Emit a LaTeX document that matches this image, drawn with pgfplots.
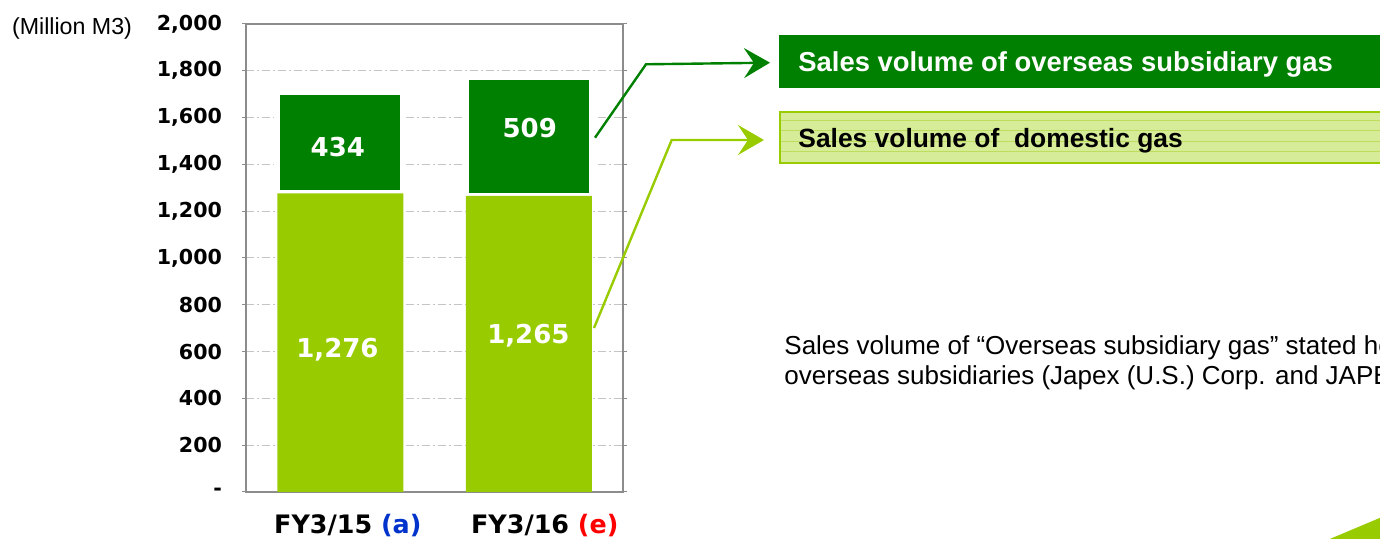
\documentclass[border=0pt]{standalone}
\usepackage{fontspec}
\setmainfont{Liberation Sans}
\newfontfamily\tah{DejaVu Sans}
\usepackage{pgfplots}
\pgfplotsset{compat=1.18}
\usetikzlibrary{arrows.meta}
\definecolor{lgreen}{HTML}{99CC00}
\definecolor{dgreen}{HTML}{008000}
\definecolor{pale}{HTML}{D7EC98}
\definecolor{stripe}{HTML}{BEDD5C}
\definecolor{frame}{HTML}{8C8C8C}
\definecolor{gridc}{HTML}{C4C4C4}
\definecolor{ablue}{HTML}{0033CC}

\begin{document}
\begin{tikzpicture}
\path[use as bounding box] (0,0) rectangle (690pt,269.5pt);
\clip (0,0) rectangle (690pt,269.5pt);

\begin{axis}[
  at={(123pt,23.5pt)}, anchor=south west,
  scale only axis, width=188.5pt, height=234pt,
  ybar stacked, bar width=63pt,
  xmin=-0.5, xmax=1.5, ymin=0, ymax=2000,
  xtick={0.04,1.085},
  xticklabels={FY3/15 \textcolor{ablue}{(a)}, FY3/16 \textcolor{red}{(e)}},
  x tick style={draw=none},
  xticklabel style={font=\tah\bfseries\fontsize{12.7}{15}\selectfont, yshift=-5.5pt},
  ytick={0,200,...,2000},
  yticklabels={-,200,400,600,800,{1,000},{1,200},{1,400},{1,600},{1,800},{2,000}},
  yticklabel style={font=\tah\bfseries\fontsize{10.3}{12}\selectfont, xshift=-6.5pt},
  y tick style={draw=frame, line width=0.5pt},
  tick align=outside, major tick length=2pt,
  ymajorgrids,
  grid style={gridc, line width=0.5pt, dash pattern=on 4pt off 1.5pt on 1pt off 1.5pt},
  axis line style={draw=frame, line width=1pt},
]
\addplot[fill=lgreen, draw=none] coordinates {(0,1276) (1,1265)};
\addplot[fill=dgreen, draw=white, line width=3pt] coordinates {(0,434) (1,509)};

\coordinate (v1) at (axis cs:-0.013,1434);
\coordinate (v2) at (axis cs:1.005,1515);
\coordinate (v3) at (axis cs:-0.015,575);
\coordinate (v4) at (axis cs:0.998,634);
\end{axis}

% value labels on the bars
\begin{scope}[every node/.style={anchor=base, text=white, inner sep=0, font=\tah\bfseries\fontsize{13}{15}\selectfont}]
\node at (v1) {434};
\node at (v2) {509};
\node at (v3) {1,276};
\node at (v4) {1,265};
\end{scope}

% annotations, in pixel units of the reference (y downwards)
\begin{scope}[x=0.5pt, y=-0.5pt, yshift=269.5pt]
\node[inner sep=0, font=\fontsize{11.6}{14}\selectfont] at (72,28.5) {(Million M3)};

\fill[dgreen] (779,35) rectangle (1390,88);
\node[anchor=base west, inner sep=0, text=white, font=\bfseries\fontsize{13.7}{16}\selectfont] at (798,71.7) {Sales volume of overseas subsidiary gas};

\fill[pale] (779,112) rectangle (1390,163);
\foreach \yy in {121,131,141.5,152}
  \draw[stripe, line width=0.5pt] (780,\yy) -- (1390,\yy);
\draw[lgreen, line width=1.2pt] (780,112) rectangle (1390,163);
\node[anchor=base west, inner sep=0, font=\bfseries\fontsize{13.2}{16}\selectfont] at (798,148) {Sales volume of\ \ domestic gas};

\draw[dgreen, line width=1.2pt, -{Stealth[length=13pt,width=15pt,inset=5pt]}] (595,137.7) -- (646,64.3) -- (770,62.7);
\draw[lgreen, line width=1.2pt, -{Stealth[length=13pt,width=15pt,inset=5pt]}] (594,328) -- (671.7,140) -- (764,140);

\node[anchor=base west, inner sep=0, font=\fontsize{13}{15}\selectfont] at (784,355) {Sales volume of “Overseas subsidiary gas” stated here is the sales volume of};
\node[anchor=base west, inner sep=0, font=\fontsize{13}{15}\selectfont] at (784,385) {overseas subsidiaries (Japex (U.S.) Corp. and JAPEX Montney Ltd.)};

\fill[lgreen] (1325,541) -- (1382,517) -- (1382,541) -- cycle;
\end{scope}
\end{tikzpicture}
\end{document}
